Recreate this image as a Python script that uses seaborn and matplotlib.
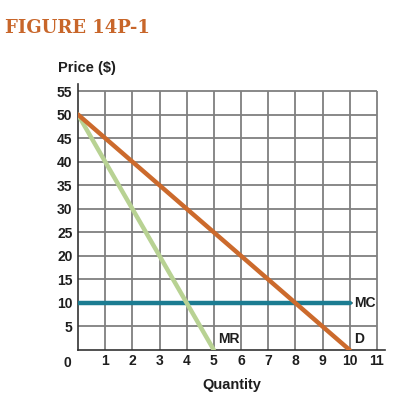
import numpy as np
import pandas as pd
import matplotlib
matplotlib.use('Agg')
import matplotlib.pyplot as plt
import seaborn as sns

# ==================== data ====================
d_qty = [0, 10]
d_price = [50, 0]
mr_qty = [0, 5]
mr_price = [50, 0]
mc_qty = [0, 10]
mc_price = [10, 10]

x_ticks = list(range(1, 12))
y_ticks = list(range(5, 60, 5))

sns.set_style('white')
plt.rcParams['font.family'] = ['Liberation Sans', 'DejaVu Sans']

c_d = '#CC6A2C'
c_mr = '#B8D293'
c_mc = '#1B7C91'
c_grid = '#7F7F7F'
c_txt = '#1E1E1E'

fig = plt.figure(figsize=(4.16, 4.16), dpi=100)
ax = fig.add_axes([78 / 416, 66 / 416, (385 - 78) / 416, (350 - 84) / 416])
ax.set_xlim(0, 11.3)
ax.set_ylim(0, 56.5)

# grid (stops at 11 and 55)
ax.vlines(x_ticks, 0, 55, color=c_grid, lw=1.3, zorder=1)
ax.hlines(y_ticks, 0, 11, color=c_grid, lw=1.3, zorder=1)

df = pd.concat([
    pd.DataFrame({'q': d_qty, 'p': d_price, 'curve': 'D'}),
    pd.DataFrame({'q': mr_qty, 'p': mr_price, 'curve': 'MR'}),
    pd.DataFrame({'q': mc_qty, 'p': mc_price, 'curve': 'MC'}),
])
sns.lineplot(data=df, x='q', y='p', hue='curve', palette={'D': c_d, 'MR': c_mr, 'MC': c_mc},
             hue_order=['MC', 'MR', 'D'], lw=3.2, legend=False, ax=ax, zorder=3,
             estimator=None, sort=False)

# curve labels
lab = dict(textcoords='offset points', fontsize=10, fontweight='bold', color=c_txt,
           bbox=dict(fc='white', ec='none', pad=0.5), zorder=4)
ax.annotate('MC', xy=(mc_qty[-1], mc_price[-1]), xytext=(3, 0), va='center', ha='left', **lab)
ax.annotate('MR', xy=(mr_qty[-1], mr_price[-1]), xytext=(3, 3), va='bottom', ha='left', **lab)
ax.annotate('D', xy=(d_qty[-1], d_price[-1]), xytext=(3, 3), va='bottom', ha='left', **lab)

ax.set_xticks(x_ticks)
ax.set_yticks(y_ticks)
ax.set_xticklabels([str(v) for v in x_ticks], fontsize=10, fontweight='bold', color=c_txt)
ax.set_yticklabels([str(v) for v in y_ticks], fontsize=10, fontweight='bold', color=c_txt)
ax.tick_params(axis='x', length=0, pad=3)
ax.tick_params(axis='y', length=3, width=1, color='#333333', pad=1)
ax.annotate('0', xy=(0, 0), xytext=(-8, -4), textcoords='offset points', ha='center', va='top',
            fontsize=10, fontweight='bold', color=c_txt, annotation_clip=False)

for s in ['top', 'right']:
    ax.spines[s].set_visible(False)
for s in ['left', 'bottom']:
    ax.spines[s].set_color('#333333')
    ax.spines[s].set_linewidth(1.2)

ax.set_xlabel('Quantity', fontsize=10.5, fontweight='bold', color=c_txt, labelpad=7)
ax.set_ylabel('')

fig.text(58 / 416, 1 - 68 / 416, 'Price ($)', fontsize=10.5, fontweight='bold', color=c_txt,
         ha='left', va='center')
fig.text(5 / 416, 1 - 28 / 416, 'FIGURE 14P-1', fontsize=13, fontweight='bold', color='#C8662A',
         ha='left', va='center', family=['DejaVu Serif'])

fig.savefig('out.png', dpi=100)
